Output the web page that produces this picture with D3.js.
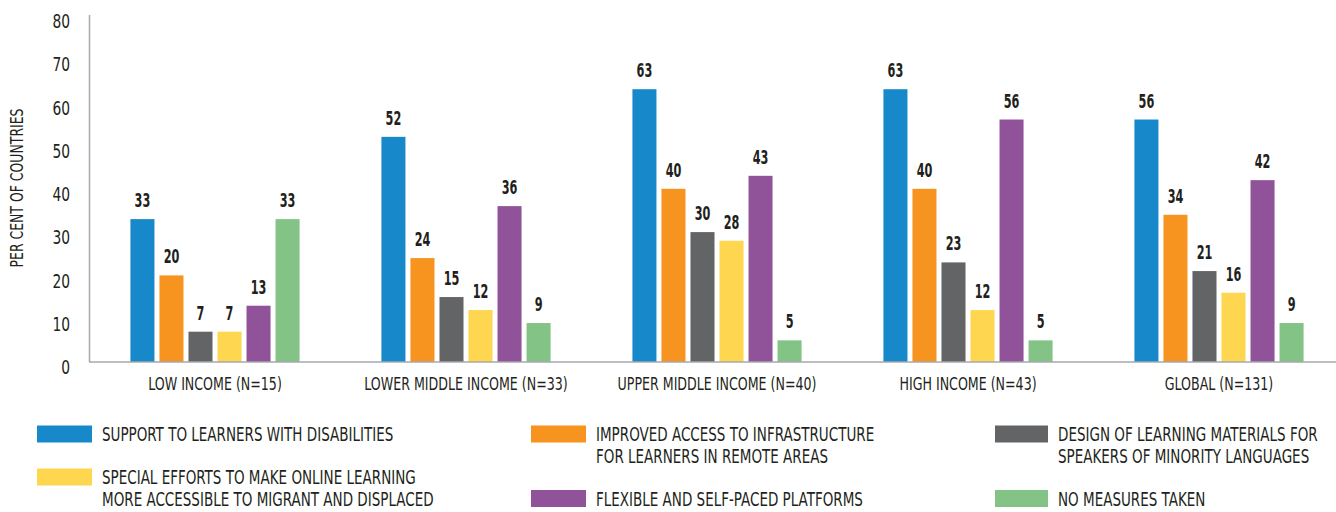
<!DOCTYPE html>
<meta charset="utf-8">
<head>
  <style>
    body { margin: 0; background: #fff; }
    svg { font-family: "DejaVu Sans Condensed", "DejaVu Sans", sans-serif; fill: #231f20; }
    .tick-label { font-size: 20px; }
    .value { font-size: 19px; font-weight: bold; }
    .cat { font-size: 18px; }
    .legend-text { font-size: 19px; }
    .ytitle { font-size: 18px; }
  </style>
</head>
<body>
  <div class="chart"></div>
  <script src="https://cdn.jsdelivr.net/npm/d3@7/dist/d3.min.js"></script>
  <script>
    var groups = ["LOW INCOME (N=15)", "LOWER MIDDLE INCOME (N=33)", "UPPER MIDDLE INCOME (N=40)", "HIGH INCOME (N=43)", "GLOBAL (N=131)"];
    var series = ["disab", "remote", "minority", "migrant", "flexible", "none"];
    var seriesNames = [
      ["SUPPORT TO LEARNERS WITH DISABILITIES"],
      ["IMPROVED ACCESS TO INFRASTRUCTURE", "FOR LEARNERS IN REMOTE AREAS"],
      ["DESIGN OF LEARNING MATERIALS FOR", "SPEAKERS OF MINORITY LANGUAGES"],
      ["SPECIAL EFFORTS TO MAKE ONLINE LEARNING", "MORE ACCESSIBLE TO MIGRANT AND DISPLACED"],
      ["FLEXIBLE AND SELF-PACED PLATFORMS"],
      ["NO MEASURES TAKEN"]
    ];
    var colors = ["#1789ca", "#f6941f", "#636466", "#fed64f", "#905399", "#83c386"];

    // values per series, one per income group
    var disab    = [33, 52, 63, 63, 56];
    var remote   = [20, 24, 40, 40, 34];
    var minority = [7, 15, 30, 23, 21];
    var migrant  = [7, 12, 28, 12, 16];
    var flexible = [13, 36, 43, 56, 42];
    var none     = [33, 9, 5, 5, 9];
    var yTicks = [0, 10, 20, 30, 40, 50, 60, 70, 80];

    var values = [disab, remote, minority, migrant, flexible, none];

    var W = 1336, H = 512;
    var svg = d3.select(".chart").append("svg")
        .attr("width", W)
        .attr("height", H);

    // condensed look: squeeze text horizontally
    function squeezed(sel, cls, x, y, sx, anchor, txt) {
      return sel.append("text")
        .attr("class", cls)
        .attr("transform", "translate(" + x + "," + y + ") scale(" + sx + ",1)")
        .attr("text-anchor", anchor || "start")
        .text(txt);
    }

    var x0 = d3.scaleBand().domain(groups).range([89.5, 1344.5]).padding(0);
    var x1 = d3.scaleBand().domain(series).range([0, x0.bandwidth()])
        .paddingInner(0.172).paddingOuter(1.41);
    var y = d3.scaleLinear().domain([0, 80]).range([362, 15.6]);

    // y tick labels
    var tg = svg.append("g");
    yTicks.forEach(function(t) {
      squeezed(tg, "tick-label", 70, y(t) + 12.3, 0.77, "end", t);
    });

    svg.append("text")
        .attr("class", "ytitle")
        .attr("transform", "translate(23,188) rotate(-90) scale(0.77,1)")
        .attr("text-anchor", "middle")
        .text("PER CENT OF COUNTRIES");

    // bars
    var grp = svg.append("g").selectAll("g")
      .data(groups)
      .enter().append("g")
        .attr("transform", function(d) { return "translate(" + x0(d) + ",0)"; });

    function cells(d, gi) {
      return series.map(function(s, si) { return { s: s, si: si, v: values[si][gi] }; });
    }

    grp.selectAll("rect")
      .data(cells)
      .enter().append("rect")
        .attr("x", function(d) { return x1(d.s); })
        .attr("width", x1.bandwidth())
        .attr("y", function(d) { return y(d.v); })
        .attr("height", function(d) { return y(0) - y(d.v); })
        .attr("fill", function(d) { return colors[d.si]; });

    grp.each(function(g, gi) {
      var sel = d3.select(this);
      cells(g, gi).forEach(function(d) {
        squeezed(sel, "value", x1(d.s) + x1.bandwidth() / 2, y(d.v) - 12, 0.66, "middle", d.v);
      });
    });

    // axes lines
    svg.append("line")
        .attr("x1", 89.5).attr("x2", 89.5)
        .attr("y1", 15).attr("y2", 362)
        .attr("stroke", "#a7a9ac").attr("stroke-width", 1.5);
    svg.append("line")
        .attr("x1", 89).attr("x2", W)
        .attr("y1", 362).attr("y2", 362)
        .attr("stroke", "#a7a9ac").attr("stroke-width", 1.5);

    // category labels
    var cg = svg.append("g");
    groups.forEach(function(d) {
      squeezed(cg, "cat", x0(d) + x0.bandwidth() / 2, 390, 0.78, "middle", d);
    });

    // legend, three columns flowing down
    var legendCols = [[0, 3], [1, 4], [2, 5]];
    var colX = [37, 531, 995];
    var swW = [55, 55, 53];
    var lineH = 21.5;
    legendCols.forEach(function(col, ci) {
      var top = 434;
      col.forEach(function(si) {
        var g = svg.append("g");
        g.append("rect")
          .attr("x", colX[ci]).attr("y", top - 8.5)
          .attr("width", swW[ci]).attr("height", 17)
          .attr("fill", colors[si]);
        seriesNames[si].forEach(function(line, li) {
          squeezed(g, "legend-text", colX[ci] + swW[ci] + 10, top + li * lineH + 7, 0.79, "start", line);
        });
        top += (seriesNames[si].length - 1) * lineH + 43;
      });
    });
  </script>
</body>
